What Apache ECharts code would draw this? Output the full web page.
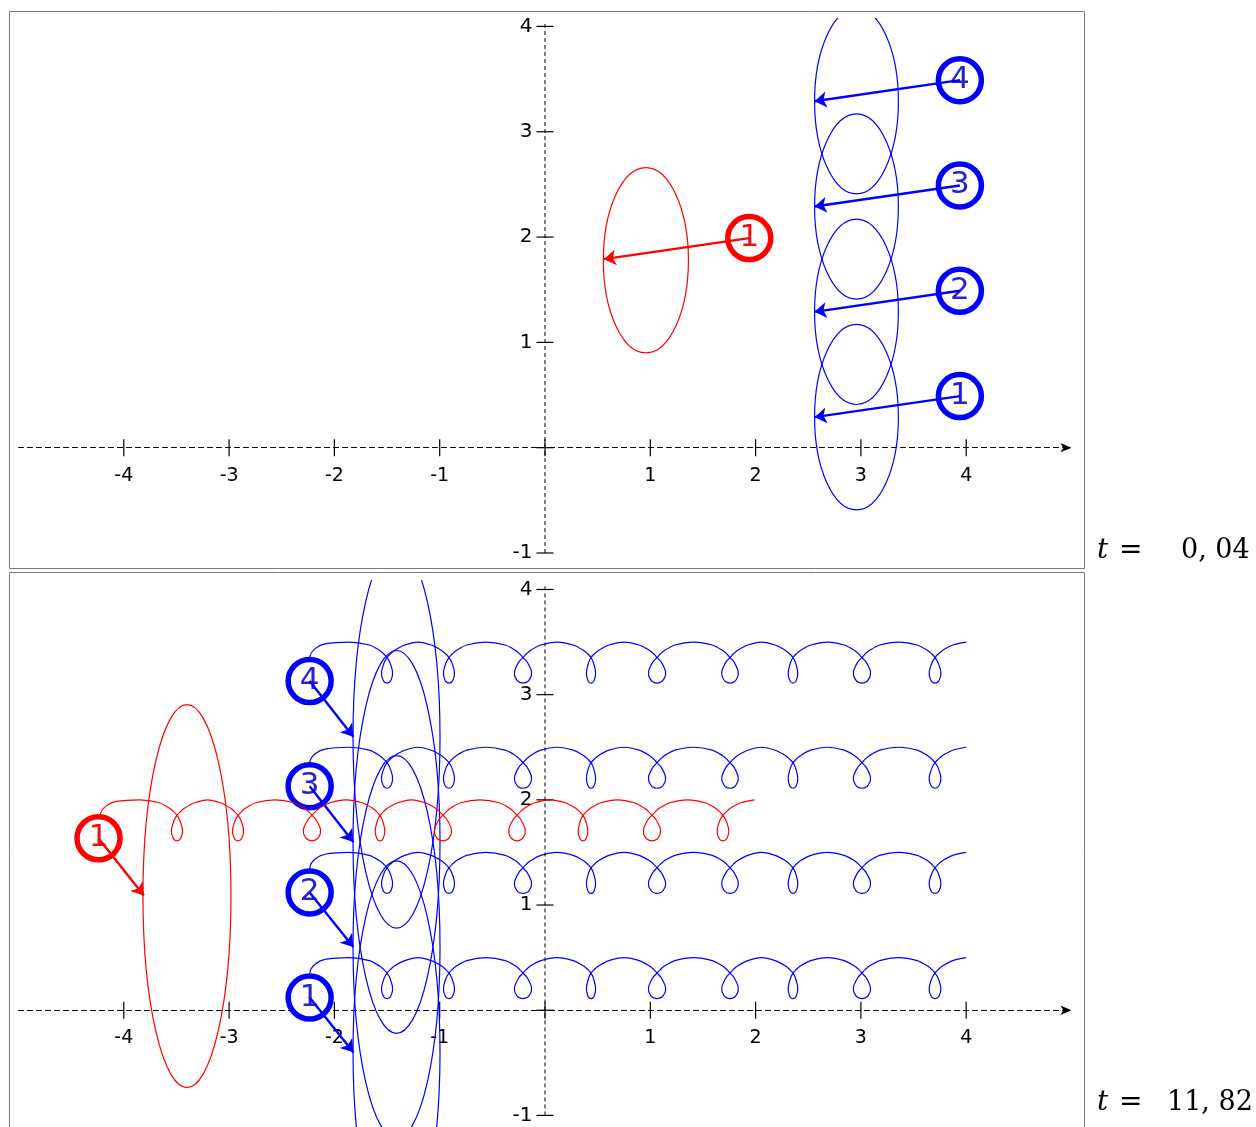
<!DOCTYPE html>
<html>
<head>
<meta charset="utf-8">
<title>Trochoid tracks</title>
<script src="https://cdn.jsdelivr.net/npm/echarts@6.0.0/dist/echarts.min.js"></script>
<style>
  html, body { margin: 0; padding: 0; background: #ffffff; }
  #chart { width: 1256px; height: 1127px; }
</style>
</head>
<body>
<div id="chart"></div>
<script>
// ---------- axes ----------
const xTickValues = [-4, -3, -2, -1, 0, 1, 2, 3, 4];
const yTickValues = [-1, 0, 1, 2, 3, 4];
const xRange = [-5, 5];
const yRanges = [[-1, 4.08], [-1, 4.09]];
const yAxisLineSpan = [-1, 4.05];

// ---------- time stamps ----------
const timeValues = ['0, 04', '11, 82'];

// ---------- panel 1 (t = 0,04) ----------
// ellipses: [centre x, centre y, half width, half height]
const redEllipsesA = [[0.958, 1.78, 0.404, 0.879]];
const blueEllipsesA = [
  [2.958, 0.29, 0.398, 0.88],
  [2.958, 1.29, 0.398, 0.88],
  [2.958, 2.29, 0.398, 0.88],
  [2.958, 3.29, 0.398, 0.88]
];
const redMarkersA = [[1.94, 1.99]];
const blueMarkersA = [[3.94, 0.49], [3.94, 1.49], [3.94, 2.49], [3.94, 3.49]];
const redTipsA = [[0.56, 1.79]];
const blueTipsA = [[2.56, 0.29], [2.56, 1.29], [2.56, 2.29], [2.56, 3.29]];

// ---------- panel 2 (t = 11,82) ----------
const redEllipsesB = [[-3.40, 1.085, 0.418, 1.82]];
const blueEllipsesB = [
  [-1.41, -0.40, 0.413, 1.82],
  [-1.41, 0.60, 0.413, 1.82],
  [-1.41, 1.60, 0.413, 1.82],
  [-1.41, 2.60, 0.413, 1.82]
];
const redMarkersB = [[-4.24, 1.635]];
const blueMarkersB = [[-2.235, 0.12], [-2.235, 1.12], [-2.235, 2.13], [-2.235, 3.13]];
const redTipsB = [[-3.81, 1.09]];
const blueTipsB = [[-1.82, -0.40], [-1.82, 0.60], [-1.82, 1.60], [-1.82, 2.60]];

const redMarkerNumbers = ['1'];
const blueMarkerNumbers = ['1', '2', '3', '4'];

// ---------- tracks (panel 2) ----------
const redTrackTop = 2.0;
const blueTrackTops = [0.5, 1.5, 2.5, 3.5];
const redLoopCentres = [-3.495, -2.915, -2.213, -1.567, -0.969, -0.266, 0.361, 1.016, 1.690];
const redLoopHalfWidths = [0.052, 0.052, 0.081, 0.045, 0.081, 0.078, 0.045, 0.081, 0.055];
const blueLoopCentres = [-1.500, -0.912, -0.209, 0.437, 1.064, 1.757, 2.355, 3.010, 3.704];
const blueLoopHalfWidths = [0.052, 0.052, 0.081, 0.043, 0.081, 0.078, 0.045, 0.081, 0.055];
// start of each track as [x, drop below the track top], ending on the first crest
const redTrackHead = [[-4.24, 0.36], [-4.226, 0.143], [-4.17, 0.06], [-4.07, 0.015], [-3.85, 0]];
const blueTrackHead = [[-2.235, 0.36], [-2.232, 0.14], [-2.18, 0.06], [-2.08, 0.015], [-1.86, 0]];
const redTrackEnd = [1.99, 0];
const blueTrackEnd = [4.0, 0];
// one loop: arch coming in, the loop itself, arch going out
// (x relative to the crossing point, y as drop below the track top)
const archIn = [[-0.169, 0.028], [-0.070, 0.080], [-0.030, 0.114], [0, 0.147]];
// loop body: x in units of that loop's half width
const loopBody = [
  [0.48, 0.189], [0.95, 0.266], [1.0, 0.300], [0.93, 0.331], [0.57, 0.375], [0, 0.390],
  [-0.57, 0.375], [-0.93, 0.331], [-1.0, 0.300], [-0.95, 0.266], [-0.48, 0.189]
];
const archOut = [[0, 0.147], [0.030, 0.114], [0.070, 0.080], [0.169, 0.028]];

// ---------- layout ----------
const BLUE = '#0000ff';
const RED = '#ff0000';
const BLUE_TEXT = '#2a22d2';
const RED_TEXT = '#ee1010';
const grids = [
  { left: 18.5, width: 1053, top: 18, height: 535, outerBoundsMode: 'none', containLabel: false },
  { left: 18.5, width: 1053, top: 580, height: 535.4, outerBoundsMode: 'none', containLabel: false }
];
const frames = [
  { x: 9.5, y: 11.5, width: 1075, height: 557 },
  { x: 9.5, y: 572.5, width: 1075, height: 560 }
];
const tickFont = { fontFamily: 'DejaVu Sans', fontSize: 19, color: '#000' };

function buildTrack(top, head, centres, halfWidths, end) {
  const pts = head.map(([x, d]) => [x, top - d]);
  centres.forEach((c, i) => {
    if (i > 0) pts.push([(centres[i - 1] + c) / 2, top]);
    archIn.forEach(([dx, d]) => pts.push([c + dx, top - d]));
    loopBody.forEach(([k, d]) => pts.push([c + k * halfWidths[i], top - d]));
    archOut.forEach(([dx, d]) => pts.push([c + dx, top - d]));
  });
  pts.push([end[0], top - end[1]]);
  return pts;
}

function ellipseSeries(panel, data, color, z) {
  const frame = frames[panel];
  return {
    type: 'custom',
    xAxisIndex: panel, yAxisIndex: panel,
    z: z, silent: true,
    dimensions: ['cx', 'cy', 'rx', 'ry'],
    encode: { x: 0, y: 1 },
    data: data,
    renderItem: function (params, api) {
      const c = api.coord([api.value(0), api.value(1)]);
      const s = api.size([api.value(2), api.value(3)]);
      const rx = s[0], ry = s[1];
      const d = 'M ' + (c[0] - rx) + ' ' + c[1] +
        ' A ' + rx + ' ' + ry + ' 0 1 0 ' + (c[0] + rx) + ' ' + c[1] +
        ' A ' + rx + ' ' + ry + ' 0 1 0 ' + (c[0] - rx) + ' ' + c[1] + ' Z';
      const cs = params.coordSys;
      return {
        type: 'path',
        shape: { pathData: d },
        style: { fill: 'none', stroke: color, lineWidth: 1.2 },
        clipPath: {
          type: 'rect',
          shape: { x: cs.x, y: cs.y, width: cs.width, height: frame.y + frame.height - cs.y }
        }
      };
    }
  };
}

function markerSeries(panel, data, numbers, color, textColor, z) {
  return {
    type: 'scatter',
    xAxisIndex: panel, yAxisIndex: panel,
    z: z, silent: true,
    symbol: 'circle', symbolSize: 43,
    itemStyle: { color: '#ffffff', borderColor: color, borderWidth: 5.5, opacity: 1 },
    label: {
      show: true, position: 'inside',
      formatter: (p) => numbers[p.dataIndex],
      fontFamily: 'DejaVu Sans', fontSize: 31, color: textColor
    },
    data: data
  };
}

function arrowSeries(panel, from, to, color, z) {
  return {
    type: 'lines',
    coordinateSystem: 'cartesian2d',
    xAxisIndex: panel, yAxisIndex: panel,
    z: z, silent: true,
    symbol: ['none', 'arrow'], symbolSize: [8, 12],
    lineStyle: { color: color, width: 2.4, opacity: 1, curveness: 0 },
    data: from.map((p, i) => ({ coords: [p, to[i]] }))
  };
}

function trackSeries(panel, data, color, z) {
  return {
    type: 'line',
    xAxisIndex: panel, yAxisIndex: panel,
    z: z, silent: true,
    showSymbol: false, symbol: 'none',
    smooth: 0.3,
    lineStyle: { color: color, width: 1.2 },
    data: data
  };
}

// dashed y axis, cross-shaped tick marks and their numbers
function axisDecor(panel) {
  return [
    {
      type: 'line', xAxisIndex: panel, yAxisIndex: panel, z: 1, silent: true,
      showSymbol: false, symbol: 'none',
      lineStyle: { color: '#000', width: 1, type: [4, 3] },
      data: yAxisLineSpan.map(v => [0, v])
    },
    {
      type: 'scatter', xAxisIndex: panel, yAxisIndex: panel, z: 1, silent: true,
      symbol: 'rect', symbolSize: [1.2, 17], itemStyle: { color: '#000', opacity: 1 },
      label: Object.assign({
        show: true, position: 'bottom', distance: 10,
        formatter: p => (p.value[0] === 0 ? '' : String(p.value[0]))
      }, tickFont),
      data: xTickValues.map(v => [v, 0])
    },
    {
      type: 'scatter', xAxisIndex: panel, yAxisIndex: panel, z: 1, silent: true,
      symbol: 'rect', symbolSize: [17, 1.2], itemStyle: { color: '#000', opacity: 1 },
      label: Object.assign({
        show: true, position: 'left', distance: 4,
        formatter: p => (p.value[1] === 0 ? '' : String(p.value[1]))
      }, tickFont, { fontSize: 20 }),
      data: yTickValues.map(v => [0, v])
    }
  ];
}

const xAxes = grids.map((g, i) => ({
  gridIndex: i, type: 'value', min: xRange[0], max: xRange[1], interval: 1,
  axisLine: {
    show: true, onZero: true,
    symbol: ['none', 'arrow'], symbolSize: [7, 11],
    lineStyle: { color: '#000', width: 1, type: [5, 4] }
  },
  axisTick: { show: false }, splitLine: { show: false },
  axisLabel: { show: false }
}));

const yAxes = grids.map((g, i) => ({
  gridIndex: i, type: 'value', min: yRanges[i][0], max: yRanges[i][1], interval: 1,
  axisLine: { show: false },
  axisTick: { show: false }, splitLine: { show: false },
  axisLabel: { show: false }
}));

const series = [];
// panel 1
series.push(...axisDecor(0));
series.push(ellipseSeries(0, blueEllipsesA, BLUE, 2));
series.push(markerSeries(0, blueMarkersA, blueMarkerNumbers, BLUE, BLUE_TEXT, 3));
series.push(arrowSeries(0, blueMarkersA, blueTipsA, BLUE, 4));
series.push(ellipseSeries(0, redEllipsesA, RED, 5));
series.push(markerSeries(0, redMarkersA, redMarkerNumbers, RED, RED_TEXT, 6));
series.push(arrowSeries(0, redMarkersA, redTipsA, RED, 7));
// panel 2
series.push(...axisDecor(1));
series.push(ellipseSeries(1, blueEllipsesB, BLUE, 2));
blueTrackTops.forEach(top => {
  series.push(trackSeries(1, buildTrack(top, blueTrackHead, blueLoopCentres, blueLoopHalfWidths, blueTrackEnd), BLUE, 2));
});
series.push(markerSeries(1, blueMarkersB, blueMarkerNumbers, BLUE, BLUE_TEXT, 3));
series.push(arrowSeries(1, blueMarkersB, blueTipsB, BLUE, 4));
series.push(ellipseSeries(1, redEllipsesB, RED, 5));
series.push(trackSeries(1, buildTrack(redTrackTop, redTrackHead, redLoopCentres, redLoopHalfWidths, redTrackEnd), RED, 5));
series.push(markerSeries(1, redMarkersB, redMarkerNumbers, RED, RED_TEXT, 6));
series.push(arrowSeries(1, redMarkersB, redTipsB, RED, 7));

// frames and time stamps
const graphic = [];
frames.forEach(f => graphic.push({
  type: 'rect', silent: true, z: 0,
  shape: { x: f.x, y: f.y, width: f.width, height: f.height },
  style: { fill: 'none', stroke: '#7a7a7a', lineWidth: 1 }
}));
const stampY = [551, 1103];
const stampValueX = [1181, 1167];
timeValues.forEach((val, i) => {
  const base = { fill: '#000', verticalAlign: 'middle', textVerticalAlign: 'middle', align: 'left', textAlign: 'left' };
  graphic.push({ type: 'text', silent: true, x: 1097, y: stampY[i],
    style: Object.assign({ text: 't', font: 'italic 28px "DejaVu Serif"' }, base) });
  graphic.push({ type: 'text', silent: true, x: 1119, y: stampY[i],
    style: Object.assign({ text: '=', font: '28px "DejaVu Serif"' }, base) });
  graphic.push({ type: 'text', silent: true, x: stampValueX[i], y: stampY[i],
    style: Object.assign({ text: val, font: '27px "DejaVu Serif"' }, base) });
});

const chart = echarts.init(document.getElementById('chart'), null, { renderer: 'canvas' });
chart.setOption({
  animation: false,
  backgroundColor: '#ffffff',
  grid: grids,
  xAxis: xAxes,
  yAxis: yAxes,
  series: series,
  graphic: graphic
});
</script>
</body>
</html>
